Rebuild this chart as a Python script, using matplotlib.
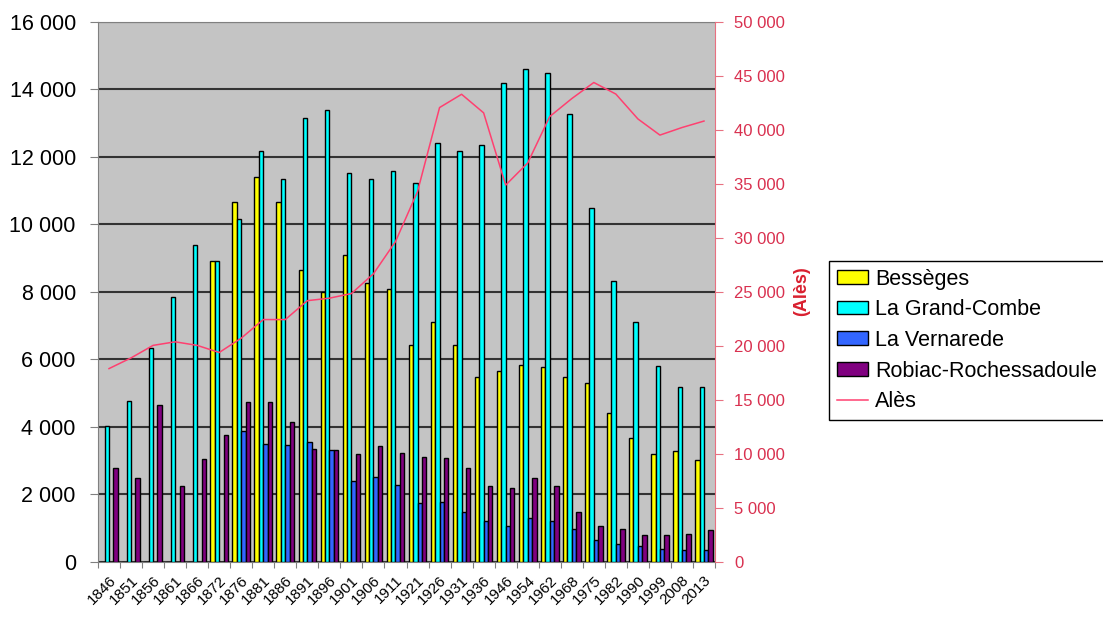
import matplotlib.pyplot as plt
from matplotlib.lines import Line2D
import numpy as np

plt.rcParams['font.family'] = ['Liberation Sans', 'DejaVu Sans']

# census years (category axis)
years = ['1846', '1851', '1856', '1861', '1866', '1872', '1876', '1881', '1886',
         '1891', '1896', '1901', '1906', '1911', '1921', '1926', '1931', '1936',
         '1946', '1954', '1962', '1968', '1975', '1982', '1990', '1999', '2008',
         '2013']

# populations (left axis)
besseges = [0, 0, 0, 0, 0, 8900, 10650, 11400, 10650, 8650, 8000, 9080, 8250,
            8070, 6420, 7100, 6420, 5470, 5660, 5840, 5760, 5470, 5290, 4400,
            3670, 3190, 3270, 3000]
grand_combe = [4030, 4750, 6320, 7850, 9380, 8900, 10160, 12160, 11350, 13140,
               13390, 11520, 11330, 11580, 11230, 12410, 12180, 12360, 14180,
               14600, 14470, 13280, 10490, 8320, 7110, 5800, 5190, 5170]
vernarede = [0, 0, 0, 0, 0, 0, 3870, 3500, 3450, 3550, 3320, 2380, 2500, 2260,
             1740, 1780, 1460, 1200, 1070, 1300, 1200, 960, 630, 530, 480, 370,
             350, 350]
robiac = [2780, 2480, 4630, 2230, 3050, 3750, 4720, 4720, 4150, 3350, 3320, 3190,
          3430, 3210, 3100, 3080, 2790, 2230, 2180, 2480, 2230, 1460, 1050, 980,
          800, 800, 820, 930]

# Alès (right axis)
ales = [17880, 18870, 20030, 20360, 20030, 19370, 20700, 22420, 22420, 24170,
        24400, 24830, 26660, 29640, 34270, 42050, 43280, 41560, 34870, 36920,
        41220, 42880, 44370, 43300, 41000, 39500, 40200, 40800]

fig = plt.figure(figsize=(11.03, 6.20), dpi=100)
ax = fig.add_axes([98 / 1103, 1 - 561.7 / 620, (715 - 98) / 1103, 540 / 620])
ax.set_facecolor('#c4c4c4')

x = np.arange(len(years))
w = 0.2
series = [
    (besseges, 'Bessèges', '#ffff00'),
    (grand_combe, 'La Grand-Combe', '#00ffff'),
    (vernarede, 'La Vernarede', '#3366ff'),
    (robiac, 'Robiac-Rochessadoule', '#800080'),
]
handles = []
for i, (vals, name, col) in enumerate(series):
    b = ax.bar(x + (i - 1.5) * w, vals, width=w, color=col, edgecolor='black',
               linewidth=1.0, label=name, zorder=3)
    handles.append(b)

ax.set_xlim(-0.5, len(years) - 0.5)
ax.set_ylim(0, 16000)
ax.set_yticks(np.arange(0, 16001, 2000))
ax.set_yticklabels([f'{v:,}'.replace(',', ' ') for v in range(0, 16001, 2000)],
                   fontsize=15.5)
ax.yaxis.grid(True, color='#333333', linewidth=1.5, zorder=1)
ax.set_axisbelow(True)

# category boundaries as ticks, labels at centers
ax.set_xticks(np.arange(-0.5, len(years), 1.0))
ax.set_xticklabels([])
ax.set_xticks(x, minor=True)
ax.set_xticklabels(years, minor=True, rotation=45, ha='right',
                   rotation_mode='anchor', fontsize=11)
ax.tick_params(axis='x', which='major', length=4, color='#808080')
ax.tick_params(axis='x', which='minor', length=0, pad=8)
ax.tick_params(axis='y', length=6, color='#808080', pad=10)
for s in ['left', 'bottom', 'top']:
    ax.spines[s].set_color('#808080')
ax.spines['right'].set_visible(False)

ax2 = ax.twinx()
line, = ax2.plot(x, ales, color='#ff4070', linewidth=1.1, label='Alès', zorder=4)
ax2.set_ylim(0, 50000)
ax2.set_yticks(np.arange(0, 50001, 5000))
ax2.set_yticklabels([f'{v:,}'.replace(',', ' ') for v in range(0, 50001, 5000)],
                    fontsize=12, color='#d9304f')
ax2.tick_params(axis='y', length=6, color='#e87080', pad=8)
ax2.spines['right'].set_color('#e87080')
for s in ['left', 'bottom', 'top']:
    ax2.spines[s].set_visible(False)

fig.text(802 / 1103, 1 - 291.5 / 620, '(Alès)', rotation=90, color='#d9202f',
         fontsize=13, fontweight='bold', ha='center', va='center')

leg_line = Line2D([], [], color='#ff4070', linewidth=1.1)
fig.legend(handles + [leg_line], [s[1] for s in series] + ['Alès'],
           loc='upper left', bbox_to_anchor=(829 / 1103, 1 - 261 / 620),
           borderaxespad=0, fontsize=15.5, frameon=True, fancybox=False,
           edgecolor='black', framealpha=1, labelspacing=0.45,
           handlelength=1.45, handleheight=0.6, handletextpad=0.35,
           borderpad=0.35)

fig.savefig('out.png', dpi=100, facecolor='white')
